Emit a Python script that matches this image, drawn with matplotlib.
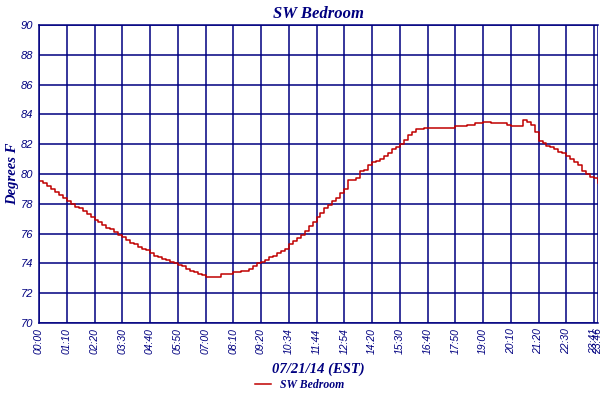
import numpy as np
import matplotlib.pyplot as plt

# temperature samples (deg F), one every ~10 minutes of logger index
temps = [79.5, 79.4, 79.2, 79.0, 78.8, 78.6, 78.4, 78.2,
         78.0, 77.8, 77.7, 77.5, 77.3, 77.1, 76.9,
         76.8, 76.6, 76.4, 76.3, 76.1, 75.9, 75.8,
         75.6, 75.4, 75.3, 75.1, 75.0, 74.9, 74.7,
         74.5, 74.4, 74.3, 74.2, 74.1, 74.0, 73.9,
         73.8, 73.6, 73.5, 73.4, 73.3, 73.2, 73.1,
         73.1, 73.1, 73.1, 73.3, 73.3, 73.3, 73.4, 73.4, 73.5, 73.5, 73.6,
         73.8, 74.0, 74.1, 74.2, 74.4, 74.5, 74.7, 74.8, 75.0, 75.3, 75.5,
         75.7, 75.9, 76.2, 76.5, 76.8, 77.1, 77.4, 77.7, 77.9, 78.2, 78.4,
         78.7, 79.0, 79.6, 79.6, 79.7, 80.2, 80.3, 80.6, 80.8, 80.9, 81.0,
         81.2, 81.4, 81.7, 81.8, 82.0, 82.3, 82.6, 82.8, 83.0, 83.0, 83.1,
         83.1, 83.1, 83.1, 83.1, 83.1, 83.1, 83.1, 83.2, 83.2, 83.2, 83.3,
         83.3, 83.4, 83.4, 83.5, 83.5, 83.4, 83.4, 83.4, 83.4, 83.3, 83.2,
         83.2, 83.2, 83.6, 83.5, 83.3, 82.8, 82.2, 82.1, 81.9, 81.8, 81.7,
         81.5, 81.4, 81.2, 81.0, 80.8, 80.6, 80.2, 80.0, 79.8, 79.7, 79.4]

tick_labels = ['00:00', '01:10', '02:20', '03:30', '04:40', '05:50', '07:00',
               '08:10', '09:20', '10:34', '11:44', '12:54', '14:20', '15:30',
               '16:40', '17:50', '19:00', '20:10', '21:20', '22:30', '23:41',
               '23:46']
tick_pos = list(range(0, 141, 7)) + [141]
y_ticks = list(range(70, 91, 2))

navy = '#000080'
red = '#c00000'

fig = plt.figure(figsize=(6, 4), dpi=100)
ax = fig.add_axes([0.065, 0.1925, 0.9317, 0.745])

x = np.arange(len(temps))
ax.step(x, temps, where='post', color=red, lw=1.1, label='SW Bedroom')

ax.set_xlim(0, 141)
ax.set_ylim(70, 90)
ax.set_xticks(tick_pos)
ax.set_xticklabels(tick_labels, rotation=90, fontsize=7.5, style='italic',
                   color=navy, family='Liberation Sans')
ax.set_yticks(y_ticks)
ax.set_yticklabels([str(v) for v in y_ticks], fontsize=8, style='italic',
                   color=navy, family='Liberation Sans')
ax.tick_params(length=0, pad=4)
ax.grid(True, color=navy, lw=1.1)
for s in ax.spines.values():
    s.set_color(navy)
    s.set_linewidth(1.1)
ax.spines['right'].set_visible(False)

font = dict(family='Liberation Serif', style='italic', weight='bold', color=navy)
ax.set_title('SW Bedroom', fontsize=12, pad=5, **font)
ax.set_xlabel('07/21/14 (EST)', fontsize=10.5, labelpad=6, **font)
ax.set_ylabel('Degrees F', fontsize=10.5, labelpad=1, **font)

leg = fig.legend(loc='lower center', bbox_to_anchor=(0.5, -0.005), frameon=False,
                 handlelength=1.3, prop=dict(family='Liberation Serif',
                                             style='italic', weight='bold', size=8.5))
for t in leg.get_texts():
    t.set_color(navy)

fig.savefig('out.png', dpi=100)
